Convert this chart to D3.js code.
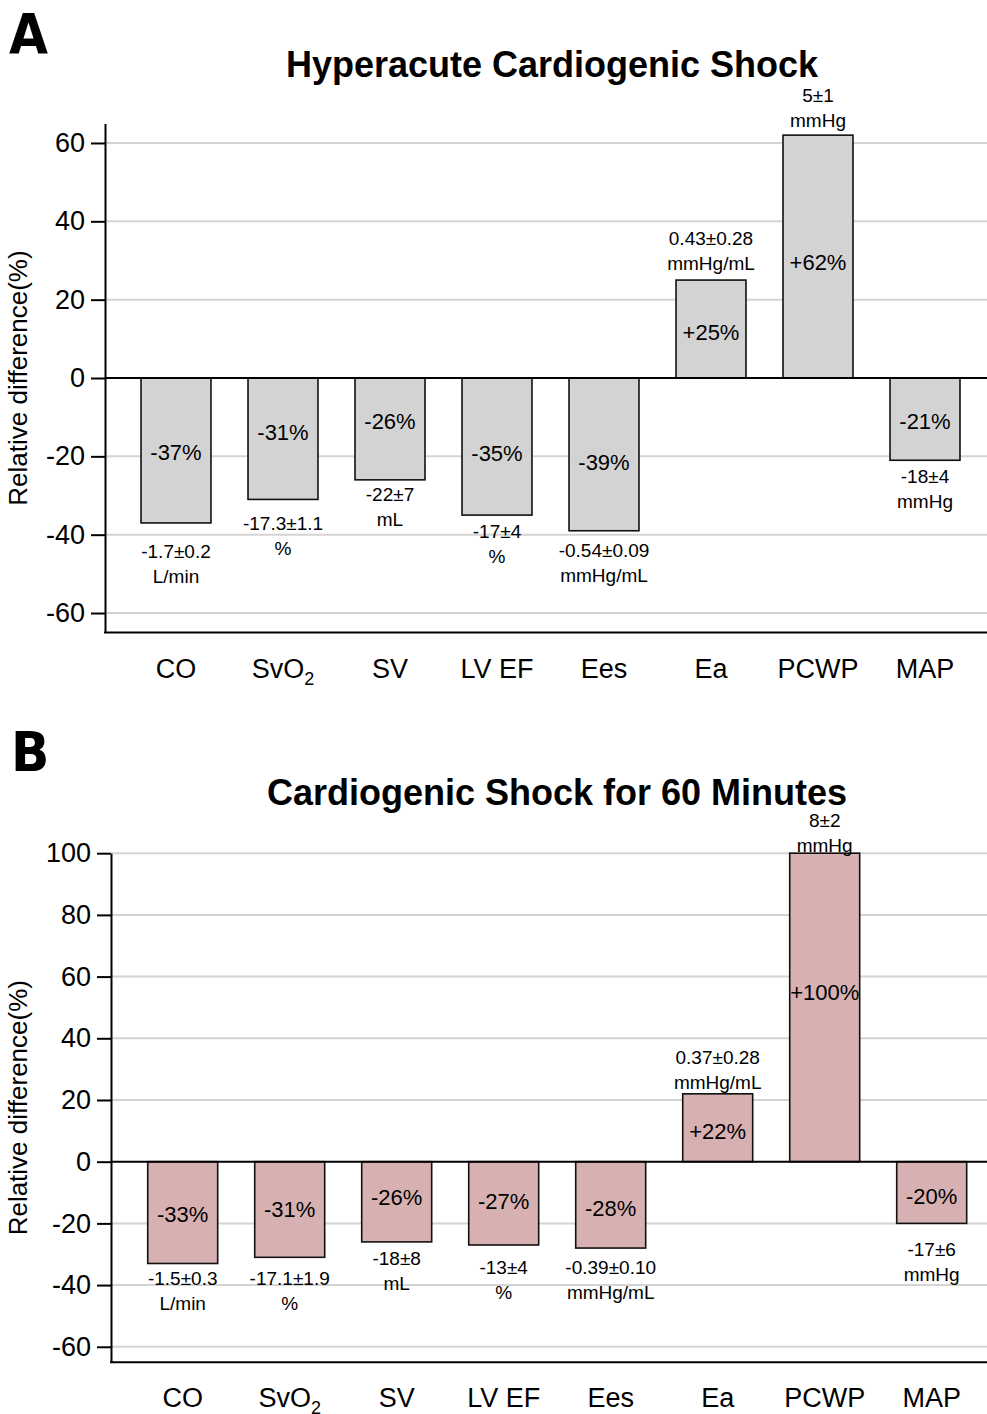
<!DOCTYPE html>
<html lang="en">
<head>
<meta charset="utf-8">
<title>Relative differences</title>
<script src="https://cdnjs.cloudflare.com/ajax/libs/d3/7.8.5/d3.min.js"></script>
<style>
  body { margin: 0; background: #fff; }
  svg { display: block; font-family: "Liberation Sans", Arial, sans-serif; }
  .panel-letter { font-family: "Liberation Sans Narrow", "DejaVu Sans Condensed", sans-serif; font-weight: bold; }
</style>
</head>
<body>
<svg id="chart" width="987" height="1414"></svg>
<script>
// categories and values
const categories = ["CO", "SvO2", "SV", "LV EF", "Ees", "Ea", "PCWP", "MAP"];
const hyperacuteValues = [-37, -31, -26, -35, -39, 25, 62, -21];
const shock60Values = [-33, -31, -26, -27, -28, 22, 100, -20];

// absolute differences and units printed next to the bars
const hyperacuteAbs = ["-1.7\u00b10.2", "-17.3\u00b11.1", "-22\u00b17", "-17\u00b14", "-0.54\u00b10.09", "0.43\u00b10.28", "5\u00b11", "-18\u00b14"];
const shock60Abs = ["-1.5\u00b10.3", "-17.1\u00b11.9", "-18\u00b18", "-13\u00b14", "-0.39\u00b10.10", "0.37\u00b10.28", "8\u00b12", "-17\u00b16"];
const units = ["L/min", "%", "mL", "%", "mmHg/mL", "mmHg/mL", "mmHg", "mmHg"];

// tick labels
const hyperacuteTicks = [-60, -40, -20, 0, 20, 40, 60];
const shock60Ticks = [-60, -40, -20, 0, 20, 40, 60, 80, 100];

// where the annotations sit, in axis units
const hyperacutePctAt = [-19, -13.7, -11.1, -19.1, -21.4, 11.8, 29.7, -10.9];
const hyperacuteAbsAt = [-44.2, -37, -29.6, -39.1, -43.9, 35.7, 72.1, -25];
const shock60PctAt = [-17, -15.5, -11.6, -12.7, -15.1, 10, 55.1, -11.1];
const shock60AbsAt = [-37.7, -37.7, -31.2, -34.2, -34.2, 34, 110.8, -28.3];

const svg = d3.select("#chart");

function panel(p) {
  const x = d3.scaleBand().domain(categories).range(p.xRange)
    .paddingInner(0.346).paddingOuter(0.173);
  const y = d3.scaleLinear().domain(p.yDomain).range(p.yRange);
  const g = svg.append("g");
  const right = 987;

  // grid
  g.append("g").selectAll("line")
    .data(p.ticks.filter(t => t != 0))
    .enter().append("line")
    .attr("x1", p.axisX).attr("x2", right)
    .attr("y1", d => y(d)).attr("y2", d => y(d))
    .attr("stroke", "#d4d4d4").attr("stroke-width", 2);

  // bars
  g.append("g").selectAll("rect")
    .data(p.values)
    .enter().append("rect")
    .attr("x", (d, i) => x(categories[i]))
    .attr("width", x.bandwidth())
    .attr("y", d => y(Math.max(0, d)))
    .attr("height", d => Math.abs(y(d) - y(0)))
    .attr("fill", p.fill)
    .attr("stroke", "#111").attr("stroke-width", 1.6);

  // zero line and bottom line
  g.append("line").attr("x1", p.axisX).attr("x2", right)
    .attr("y1", y(0)).attr("y2", y(0))
    .attr("stroke", "#000").attr("stroke-width", 2);
  g.append("line").attr("x1", p.axisX - 1).attr("x2", right)
    .attr("y1", y(p.yDomain[0])).attr("y2", y(p.yDomain[0]))
    .attr("stroke", "#000").attr("stroke-width", 2);

  // y axis
  const yAxis = g.append("g")
    .attr("transform", "translate(" + p.axisX + ",0)")
    .call(d3.axisLeft(y).tickValues(p.ticks).tickFormat(d => String(d))
      .tickSize(14).tickSizeOuter(0).tickPadding(6));
  yAxis.selectAll("text").attr("font-size", 27).attr("font-family", "Liberation Sans, Arial, sans-serif").attr("fill", "#000");
  yAxis.selectAll("line, path").attr("stroke", "#000").attr("stroke-width", 2);

  // x axis labels
  const xAxis = g.append("g")
    .attr("transform", "translate(0," + y(p.yDomain[0]) + ")")
    .call(d3.axisBottom(x).tickSize(0).tickPadding(26));
  xAxis.select(".domain").remove();
  xAxis.selectAll("text").attr("font-size", 27).attr("font-family", "Liberation Sans, Arial, sans-serif").attr("fill", "#000");
  xAxis.selectAll("text").filter(d => d == "SvO2").text(null)
    .call(t => {
      t.append("tspan").text("SvO");
      t.append("tspan").text("2").attr("font-size", 18).attr("dy", 7);
    });

  // percent labels
  g.append("g").selectAll("text")
    .data(p.values)
    .enter().append("text")
    .attr("x", (d, i) => x(categories[i]) + x.bandwidth() / 2)
    .attr("y", (d, i) => y(p.pctAt[i]))
    .attr("dy", "0.36em")
    .attr("text-anchor", "middle")
    .attr("font-size", 22)
    .text(d => (d > 0 ? "+" : "") + d + "%");

  // absolute difference labels
  const abs = g.append("g").selectAll("text")
    .data(p.abs)
    .enter().append("text")
    .attr("x", (d, i) => x(categories[i]) + x.bandwidth() / 2)
    .attr("y", (d, i) => y(p.absAt[i]))
    .attr("dy", "0.36em")
    .attr("text-anchor", "middle")
    .attr("font-size", 19);
  abs.append("tspan").text(d => d);
  abs.append("tspan")
    .attr("x", (d, i) => x(categories[i]) + x.bandwidth() / 2)
    .attr("dy", 25)
    .text((d, i) => units[i]);

  // y label
  const mid = (p.yRange[0] + p.yRange[1]) / 2;
  g.append("text")
    .attr("transform", "translate(27," + mid + ") rotate(-90)")
    .attr("text-anchor", "middle")
    .attr("font-size", 26)
    .text("Relative difference(%)");

  // title
  g.append("text")
    .attr("x", p.titleX).attr("y", p.titleY)
    .attr("text-anchor", "middle")
    .attr("font-size", 36).attr("font-weight", "bold")
    .text(p.title);

  g.append("text").attr("class", "panel-letter")
    .attr("x", p.letterX).attr("y", p.letterY)
    .attr("font-size", 56)
    .text(p.letter);
}

panel({
  letter: "A", letterX: 9, letterY: 53,
  title: "Hyperacute Cardiogenic Shock", titleX: 552, titleY: 77,
  values: hyperacuteValues, abs: hyperacuteAbs, ticks: hyperacuteTicks,
  pctAt: hyperacutePctAt, absAt: hyperacuteAbsAt,
  axisX: 105, xRange: [122.5, 978.5],
  yDomain: [-65, 65], yRange: [632.6, 123.4],
  fill: "#d3d3d3"
});

panel({
  letter: "B", letterX: 11, letterY: 771,
  title: "Cardiogenic Shock for 60 Minutes", titleX: 557, titleY: 805,
  values: shock60Values, abs: shock60Abs, ticks: shock60Ticks,
  pctAt: shock60PctAt, absAt: shock60AbsAt,
  axisX: 111, xRange: [129.2, 985.2],
  yDomain: [-65, 100], yRange: [1362.2, 853.2],
  fill: "#d7b1b1"
});
</script>
</body>
</html>
